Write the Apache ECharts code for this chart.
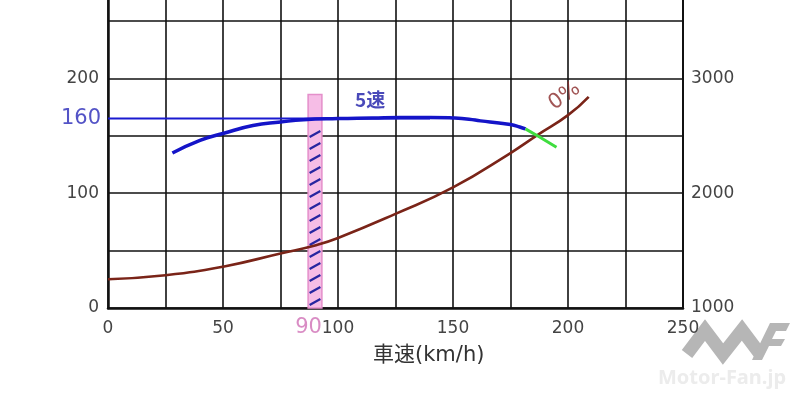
<!DOCTYPE html>
<html>
<head>
<meta charset="utf-8">
<script src="https://cdn.jsdelivr.net/npm/echarts@6/dist/echarts.min.js"></script>
<style>html,body{margin:0;padding:0;background:#fff;}#c{width:800px;height:402px;}</style>
</head>
<body>
<div id="c"></div>
<script>
// ---- data ----
const xTickLabels = [0, 50, 100, 150, 200, 250];
const leftTickLabels = [0, 100, 200];
const rightTickLabels = [1000, 2000, 3000];

// 5th gear driving force curve (blue)
const gear5Force = [[28,135],[40,146],[50,152],[63,159],[75,162],[85,164],[100,165],[115,165.5],[127,166],[140,166],[150,165.5],[157,164.5],[162,163],[170,161.2],[175,159.8],[179,157.7],[181.5,156]];
// continuation past the crossing (green)
const gear5Tail = [[181.5,156],[188,148.5],[195,140]];
// running resistance at 0% grade (brown)
const resistance0 = [[0,25],[25,28.5],[50,36],[75,47.5],[90,54.5],[100,61],[125,82],[150,105],[175,135],[187,151],[200,168],[209,184]];
// max driving force marker line
const maxForceLine = [[0,165],[140,165]];
const maxForceLabel = '160';
// highlighted speed band (pink bar)
const bandSpeed = 90, bandHalfWidth = 3, bandTop = 186, hatchTop = 163;
// annotation labels: [speed, value, text]
const labels5 = [[114,181,'5速']];
const labels0 = [[198.5,184.5,'0%']];
const labels90 = [[87.2,-17.4,'90']];

const chart = echarts.init(document.getElementById('c'), null, {renderer:'canvas'});

const tickFont = {fontFamily:'DejaVu Sans', fontSize:17, color:'#444'};

const option = {
  backgroundColor:'#ffffff',
  animation:false,
  grid:{left:108, right:117, top:0, bottom:94, containLabel:false},
  xAxis:{
    type:'value', min:0, max:250, interval:25,
    axisLine:{show:true, onZero:false, lineStyle:{color:'#111', width:2.5}},
    axisTick:{show:false},
    splitLine:{show:true, lineStyle:{color:'#111', width:1.6}},
    axisLabel:Object.assign({margin:12, formatter:v=>xTickLabels.includes(v)?String(v):''}, tickFont)
  },
  yAxis:[{
    type:'value', min:0, max:268.3, interval:50, position:'left',
    axisLine:{show:true, lineStyle:{color:'#111', width:2.5}},
    axisTick:{show:false},
    splitLine:{show:true, showMaxLine:false, lineStyle:{color:'#111', width:1.6}},
    axisLabel:Object.assign({margin:9, showMaxLabel:false, formatter:v=>leftTickLabels.includes(v)?String(v):''}, tickFont)
  },{
    type:'value', min:1000, max:3683, interval:500, position:'right',
    axisLine:{show:true, lineStyle:{color:'#111', width:2}},
    axisTick:{show:false},
    splitLine:{show:false},
    axisLabel:Object.assign({margin:8, showMaxLabel:false, formatter:v=>rightTickLabels.includes(v)?String(v):''}, tickFont)
  }],
  series:[
    {
      type:'custom', name:'band', z:2,
      data:[[bandSpeed, bandTop, hatchTop]],
      renderItem:function(params, api){
        const x0 = api.coord([api.value(0)-bandHalfWidth, 0]);
        const x1 = api.coord([api.value(0)+bandHalfWidth, api.value(1)]);
        const hTop = api.coord([api.value(0), api.value(2)])[1];
        const left = x0[0], right = x1[0], bottom = x0[1], top = x1[1];
        const children = [{
          type:'rect',
          shape:{x:left, y:top, width:right-left, height:bottom-top},
          style:{fill:'#f6bde6', stroke:'#e48fca', lineWidth:1.5}
        }];
        const step = 12, rise = 6;
        for (let y = bottom - 3; y - rise > hTop; y -= step) {
          children.push({type:'line', shape:{x1:left+1.5, y1:y, x2:right-1.5, y2:y-rise},
            style:{stroke:'#2626a0', lineWidth:2.2}});
        }
        return {type:'group', children:children};
      }
    },
    {
      type:'line', name:'maxForce', data:maxForceLine, yAxisIndex:0, z:3,
      showSymbol:false, lineStyle:{color:'#1a1ad0', width:2}
    },
    {
      type:'line', name:'resistance0', data:resistance0, smooth:true, z:4,
      showSymbol:false, lineStyle:{color:'#7a2418', width:2.6}
    },
    {
      type:'line', name:'gear5', data:gear5Force, smooth:true, z:5,
      showSymbol:false, lineStyle:{color:'#1414c8', width:3.5}
    },
    {
      type:'line', name:'gear5tail', data:gear5Tail, smooth:false, z:5,
      showSymbol:false, lineStyle:{color:'#3fdd3f', width:3}
    },
    {
      type:'scatter', clip:false, symbolSize:0, z:6,
      data:[[maxForceLine[0][0], maxForceLine[0][1], maxForceLabel]],
      label:{show:true, position:'left', distance:7, formatter:p=>p.value[2],
        fontFamily:'DejaVu Sans', fontSize:21, color:'#2828b8'}
    },
    {
      type:'scatter', clip:false, symbolSize:0, z:6, data:labels5,
      label:{show:true, position:'inside', formatter:p=>p.value[2],
        fontFamily:'Noto Sans CJK JP', fontWeight:'bold', fontSize:19, color:'#1c1ca8'}
    },
    {
      type:'scatter', clip:false, symbolSize:0, z:6, data:labels0,
      label:{show:true, position:'inside', rotate:35, formatter:p=>p.value[2],
        fontFamily:'DejaVu Sans', fontSize:21, color:'#8a2a2a'}
    },
    {
      type:'scatter', clip:false, symbolSize:0, z:6, data:labels90,
      label:{show:true, position:'inside', formatter:p=>p.value[2],
        fontFamily:'DejaVu Sans', fontSize:21, color:'#cf6fb5'}
    }
  ],
  graphic:[
    {type:'text', left:373, top:345, style:{text:'車速(km/h)', font:'21px "DejaVu Sans", "Noto Sans CJK JP"', fill:'#333'}},
    {type:'polyline', shape:{points:[[687,354],[705,330],[723,354],[742,330],[760,354]]}, style:{stroke:'#b6b6b6', lineWidth:13, fill:null, lineJoin:'miter'}},
    {type:'polygon', shape:{points:[[752,360],[770,323],[790,323],[786,331],[776,331],[772,339],[785,339],[781,346],[769,346],[762,360]]}, style:{fill:'#b6b6b6'}},
    {type:'text', left:658, top:368, style:{text:'Motor-Fan.jp', font:'bold 20px "Noto Sans"', fill:'#ececec'}}
  ]
};
chart.setOption(option);
</script>
</body>
</html>
